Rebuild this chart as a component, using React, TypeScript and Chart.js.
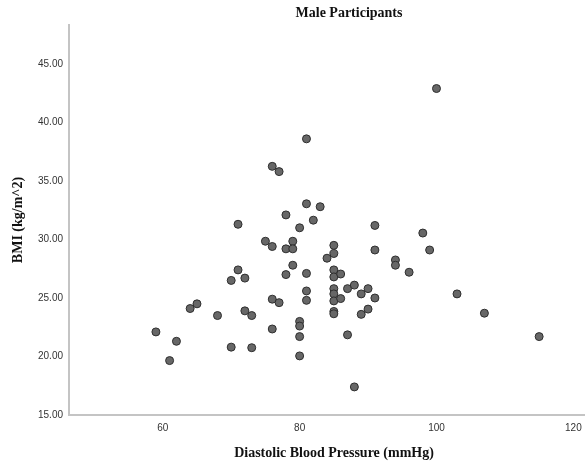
import React, { useEffect, useRef } from "react";
import { Chart, registerables } from "chart.js";

Chart.register(...registerables);

const chartTitle = "Male Participants";
const xAxisTitle = "Diastolic Blood Pressure (mmHg)";
const yAxisTitle = "BMI (kg/m^2)";

const diastolicBP = [
  59, 61, 62, 64, 65, 68, 70, 70, 71, 71,
  72, 72, 73, 73, 75, 76, 76, 76, 76, 77,
  77, 78, 78, 78, 79, 79, 79, 80, 80, 80,
  80, 80, 81, 81, 81, 81, 81, 82, 83, 84,
  85, 85, 85, 85, 85, 85, 85, 85, 85, 86,
  86, 87, 87, 88, 88, 89, 89, 90, 90, 91,
  91, 91, 94, 94, 96, 98, 99, 100, 103, 107,
  115,
];

const bmi = [
  22.1, 19.65, 21.3, 24.1, 24.5, 23.5, 26.5, 20.8, 27.4, 31.3,
  26.7, 23.9, 23.5, 20.75, 29.85, 36.25, 29.4, 24.9, 22.35, 35.8,
  24.6, 32.1, 29.2, 27.0, 29.85, 29.2, 27.8, 31.0, 23.0, 22.6,
  21.7, 20.05, 38.6, 33.05, 27.1, 25.6, 24.8, 31.65, 32.8, 28.4,
  29.5, 28.8, 27.4, 26.8, 25.8, 25.35, 24.75, 23.85, 23.65, 27.05,
  24.95, 25.8, 21.85, 26.1, 17.4, 25.35, 23.6, 25.8, 24.05, 31.2,
  29.1, 25.0, 28.25, 27.8, 27.2, 30.55, 29.1, 42.9, 25.35, 23.7,
  21.7,
];

const xTicks = [60, 80, 100, 120];
const yTicks = [15, 20, 25, 30, 35, 40, 45];

const xMin = 46.3;
const xMax = 121.7;
const yMin = 15;
const yMax = 48.33;

export default function App() {
  const canvasRef = useRef<HTMLCanvasElement | null>(null);

  useEffect(() => {
    document.body.style.margin = "0";
    const canvas = canvasRef.current;
    if (!canvas) return;

    const titlesPlugin = {
      id: "customTitles",
      afterDraw(chart: any) {
        const ctx = chart.ctx;
        ctx.save();
        ctx.fillStyle = "#111111";
        ctx.font = 'bold 14px "Liberation Serif", serif';
        ctx.textAlign = "center";
        ctx.textBaseline = "middle";
        ctx.fillText(chartTitle, 349, 13);
        ctx.fillText(xAxisTitle, 334, 453);
        ctx.restore();
      },
    };

    const chart = new Chart(canvas, {
      type: "scatter",
      data: {
        datasets: [
          {
            label: "BMI",
            data: diastolicBP.map((x, i) => ({ x, y: bmi[i] })),
            backgroundColor: "#676767",
            borderColor: "#2e2e2e",
            borderWidth: 1,
            pointRadius: 4,
            pointHoverRadius: 4,
          },
        ],
      },
      options: {
        animation: false,
        responsive: false,
        maintainAspectRatio: false,
        layout: { autoPadding: false, padding: { top: 25, right: 0, bottom: 0, left: 0 } },
        plugins: {
          legend: { display: false },
          title: { display: false },
          tooltip: { enabled: false },
        },
        scales: {
          x: {
            type: "linear",
            min: xMin,
            max: xMax,
            afterFit(scale: any) {
              scale.height = 50;
              scale.paddingLeft = 0;
              scale.paddingRight = 0;
            },
            afterBuildTicks(scale: any) {
              scale.ticks = xTicks.map((v) => ({ value: v }));
            },
            grid: { display: false, drawTicks: false },
            border: { display: true, color: "#c4c4c4", width: 2 },
            ticks: {
              padding: 7,
              color: "#333333",
              font: { family: '"Liberation Sans", Arial, sans-serif', size: 10 },
              callback: (v: any) => String(v),
            },
          },
          y: {
            type: "linear",
            min: yMin,
            max: yMax,
            afterFit(scale: any) {
              scale.width = 69;
              scale.paddingTop = 0;
              scale.paddingBottom = 0;
            },
            afterBuildTicks(scale: any) {
              scale.ticks = yTicks.map((v) => ({ value: v }));
            },
            grid: { display: false, drawTicks: false },
            border: { display: true, color: "#c4c4c4", width: 2 },
            title: {
              display: true,
              text: yAxisTitle,
              color: "#111111",
              font: { family: '"Liberation Serif", serif', size: 14, weight: "bold" },
              padding: { top: 10, bottom: 0 },
            },
            ticks: {
              padding: 6,
              color: "#333333",
              font: { family: '"Liberation Sans", Arial, sans-serif', size: 10 },
              callback: (v: any) => Number(v).toFixed(2),
            },
          },
        },
      },
      plugins: [titlesPlugin],
    } as any);

    return () => {
      chart.destroy();
    };
  }, []);

  return (
    <div style={{ position: "fixed", left: 0, top: 0, width: 585, height: 465, background: "#ffffff" }}>
      <canvas ref={canvasRef} width={585} height={465} />
    </div>
  );
}
